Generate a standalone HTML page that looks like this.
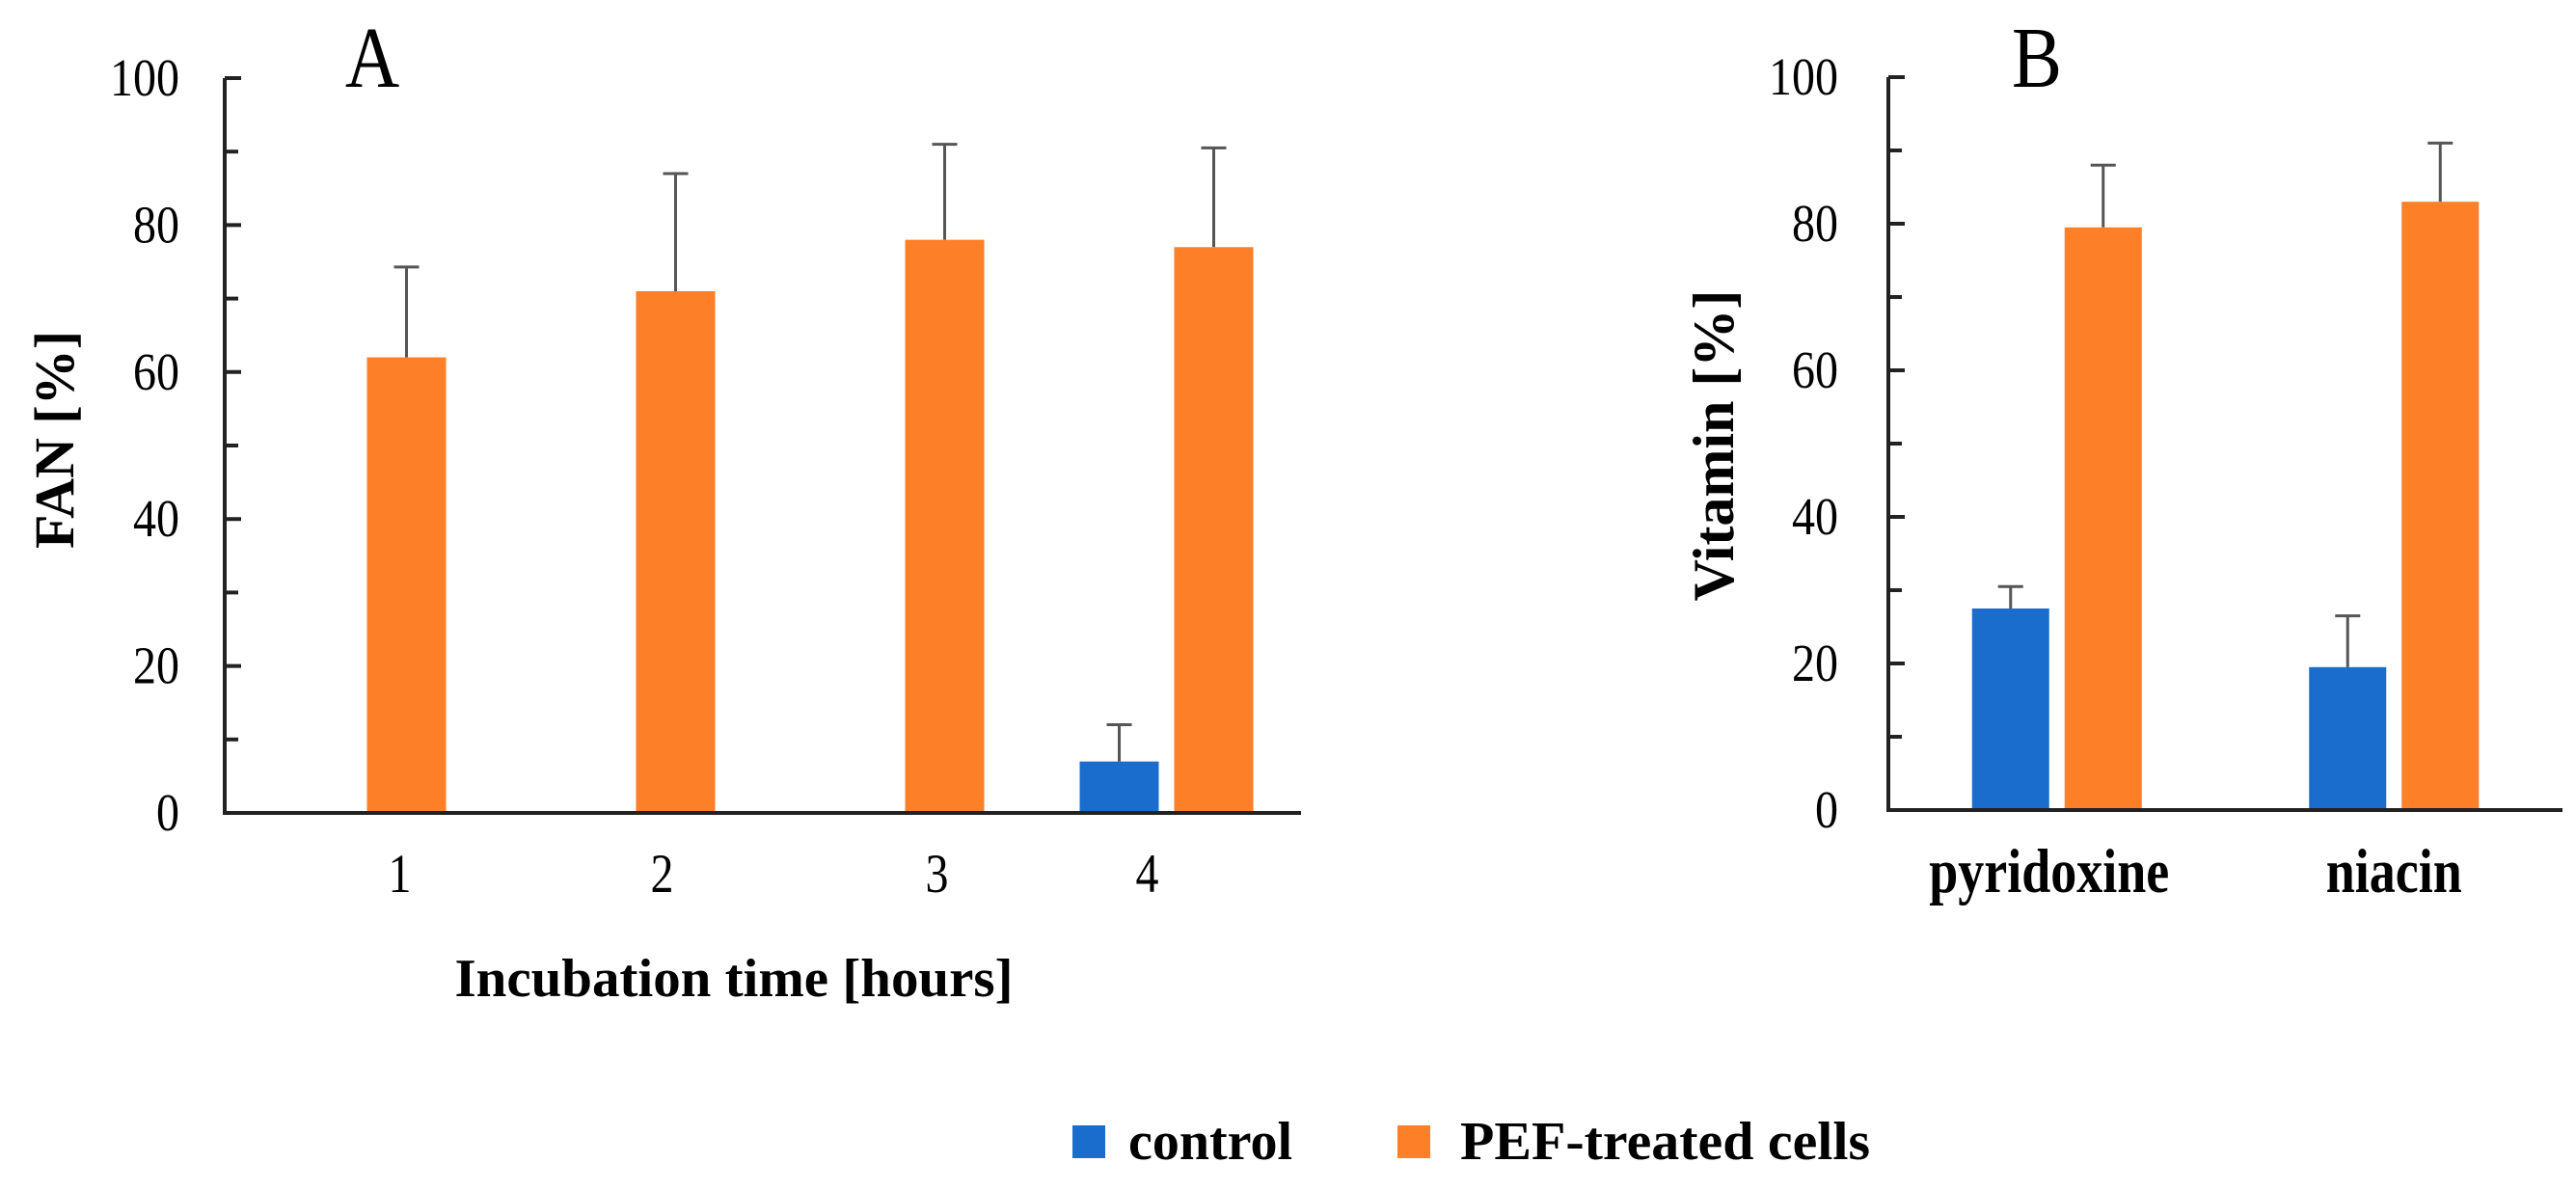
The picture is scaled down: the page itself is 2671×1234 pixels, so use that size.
<!DOCTYPE html>
<html><head><meta charset="utf-8"><style>
html,body{margin:0;padding:0;background:#fff;}
svg{display:block;font-family:"Liberation Serif",serif;}
</style></head><body>
<svg id="chart" width="2671" height="1234" viewBox="0 0 2671 1234" xmlns="http://www.w3.org/2000/svg">
<g id="gA"></g>
<g id="gB"></g>
<g id="legend">
  <g>
    <rect x="1112" y="1167" width="34" height="34" fill="#1a6dcc"/>
    <text x="1170" y="1202" font-size="56" font-weight="bold">control</text>
  </g>
  <g>
    <rect x="1449" y="1167" width="34" height="34" fill="#fd7f27"/>
    <text x="1514" y="1202" font-size="56" font-weight="bold" textLength="425" lengthAdjust="spacingAndGlyphs">PEF-treated cells</text>
  </g>
</g>
</svg>
<script>
const NS="http://www.w3.org/2000/svg";
// Panel A data
const catsA=["1","2","3","4"];
const controlA=[0,0,0,7];
const controlErrA=[0,0,0,12];
const pefA=[62,71,78,77];
const pefErrA=[74.3,87,91,90.5];
// Panel B data
const catsB=["pyridoxine","niacin"];
const controlB=[27.5,19.5];
const controlErrB=[30.5,26.5];
const pefB=[79.5,83];
const pefErrB=[88,91];
const yTicks=[0,20,40,60,80,100];
const minorTicks=[10,30,50,70,90];

function mk(parent,tag,attrs,text){const e=document.createElementNS(NS,tag);for(const k in attrs)e.setAttribute(k,attrs[k]);if(text!==undefined)e.textContent=text;parent.appendChild(e);return e;}

function panel(g,o){
  const y=v=>o.y0-(v/100)*(o.y0-o.y100);
  const cw=(o.x1-o.x0)/o.cats.length;
  const cx=i=>o.x0+cw*(i+0.5);
  const ya=mk(g,'line',{x1:o.x0,y1:o.y100,x2:o.x0,y2:o.y0+2,stroke:'#222','stroke-width':4});
  
  
  yTicks.forEach(t=>{
    const l=mk(g,'line',{x1:o.x0,x2:o.x0+17,y1:y(t),y2:y(t),stroke:'#222','stroke-width':4});
    
    
    const tx=mk(g,'text',{x:0,y:0,'font-size':48,'text-anchor':'end',transform:`translate(${o.lx},${y(t)+18}) scale(1,1.15)`},String(t));
    
    
  });
  minorTicks.forEach(t=>{
    const l=mk(g,'line',{x1:o.x0,x2:o.x0+14,y1:y(t),y2:y(t),stroke:'#222','stroke-width':4});
    
    
  });
  const bw=o.bw, off=o.off;
  o.cats.forEach((c,i)=>{
    [[o.ctrl,o.ctrlErr,'#1a6dcc',-off,'control'],[o.pef,o.pefErr,'#fd7f27',off,'pef']].forEach(([vals,errs,col,dx,nm])=>{
      const v=vals[i]; if(v<=0)return;
      const xc=cx(i)+dx;
      const e=errs[i];
      const el=mk(g,'line',{x1:xc,x2:xc,y1:y(e),y2:y(v),stroke:'#555','stroke-width':3});
      
      
      const ec=mk(g,'line',{x1:xc-13,x2:xc+13,y1:y(e),y2:y(e),stroke:'#555','stroke-width':3});
      
      
      const r=mk(g,'rect',{x:xc-bw/2,y:y(v),width:bw,height:y(0)-y(v),fill:col});
      
      
    });
    const lb=mk(g,'text',{x:0,y:0,'font-size':o.labSize,'text-anchor':'middle','font-weight':o.labBold?'bold':'normal',transform:`translate(${cx(i)+o.labOff[i]},${o.labY}) scale(1,1.2)`},c);
    
    
  });
  const xa=mk(g,'line',{x1:o.x0-2,x2:o.x1,y1:o.y0,y2:o.y0,stroke:'#222','stroke-width':4});
  
  
  const t=mk(g,'text',{x:0,y:0,'font-size':78,'text-anchor':'middle',transform:`translate(${o.tx},${o.ty}) scale(1,1.15)`},o.title);
  
  
  const yl=mk(g,'text',{x:0,y:0,'font-size':o.ylSize,'font-weight':'bold','text-anchor':'middle',transform:`translate(${o.ylx},${o.yly}) rotate(-90)`},o.ylabel);
  
  
}
panel(document.getElementById('gA'),{x0:233,x1:1349,y0:843,y100:81,lx:186,cats:catsA,ctrl:controlA,ctrlErr:controlErrA,pef:pefA,pefErr:pefErrA,bw:82,off:49,labOff:[42,35,41,-20],labY:925,labSize:48,labBold:false,title:'A',tx:386,ty:90,ylabel:'FAN [%]',ylSize:58,ylx:76,yly:456,});
panel(document.getElementById('gB'),{x0:1958,x1:2657,y0:840,y100:80,lx:1906,cats:catsB,ctrl:controlB,ctrlErr:controlErrB,pef:pefB,pefErr:pefErrB,bw:80,off:48,labOff:[-8,0],labY:925,labSize:54,labBold:true,title:'B',tx:2112,ty:90,ylabel:'Vitamin [%]',ylSize:60,ylx:1797,yly:462});
const xt=document.createElementNS(NS,'text');
xt.setAttribute('x',761);xt.setAttribute('y',1033);xt.setAttribute('font-size',56);xt.setAttribute('font-weight','bold');xt.setAttribute('text-anchor','middle');
xt.setAttribute('textLength',579);xt.setAttribute('lengthAdjust','spacingAndGlyphs');
xt.textContent='Incubation time [hours]';


document.getElementById('gA').appendChild(xt);
</script>
</body></html>
